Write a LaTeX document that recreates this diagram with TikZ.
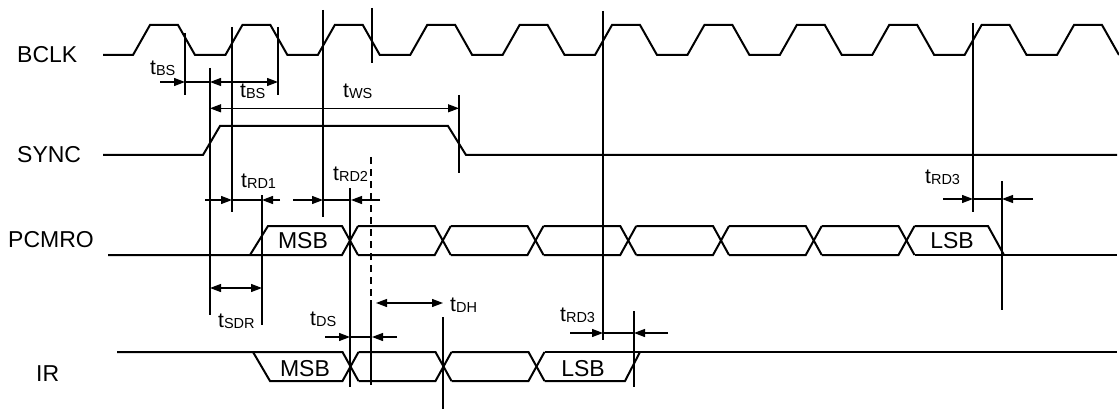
\documentclass[tikz,border=0pt]{standalone}
\usepackage{fontspec}
\setmainfont{Liberation Sans}
\usetikzlibrary{arrows.meta}
\newcommand{\tlabel}[1]{t\raisebox{-1pt}{\fontsize{14.5}{15}\selectfont #1}}

\begin{document}
\begin{tikzpicture}[x=1pt,y=-1pt,
    sigline/.style={line width=2pt,line join=miter},
    guide/.style={line width=1.2pt},
    dimline/.style={line width=1.2pt,-{Triangle[length=11pt,width=8pt]}},
    dimboth/.style={line width=1.2pt,{Triangle[length=11pt,width=8pt]}-{Triangle[length=11pt,width=8pt]}},
    signame/.style={anchor=west,inner sep=0pt,font={\fontsize{23}{27}\selectfont}},
    bitlab/.style={inner sep=0pt,font={\fontsize{23}{27}\selectfont}},
    tlab/.style={anchor=base west,inner sep=0pt,font={\fontsize{21}{24}\selectfont}}]
    \useasboundingbox (0,0) rectangle (1119,409);

    % signal names
    \node[signame] (bclk) at (17,55) {BCLK};
    \node[signame] (sync) at (17,155) {SYNC};
    \node[signame] (pcmro) at (8,240) {PCMRO};
    \node[signame] (ir) at (36,374) {IR};

    % BCLK
    \draw[sigline] (103,55) foreach \k in {0,...,10} {
        -- ({133+92.4*\k},55) -- ({150+92.4*\k},25) -- ({178+92.4*\k},25) -- ({195+92.4*\k},55)
    };

    % SYNC
    \draw[sigline] (103,155) -- (203,155) -- (220,126) -- (448,126) -- (466,155) -- (1117,155);

    % PCMRO
    \draw[sigline] (108,255) -- (342,255) -- (358,226);
    \draw[sigline] (250,255) -- (268,226) -- (342,226) -- (358,255);
    \foreach \k in {0,...,5} {
        \pgfmathsetmacro\xa{350+92.75*\k}
        \pgfmathsetmacro\xb{350+92.75*(\k+1)}
        \draw[sigline] ({\xa+8},226) -- ({\xb-8},226) -- ({\xb+8},255);
        \draw[sigline] ({\xa+8},255) -- ({\xb-8},255) -- ({\xb+8},226);
    }
    \draw[sigline] (914.5,226) -- (988,226) -- (1004,255);
    \draw[sigline] (914.5,255) -- (1117,255);
    \node[bitlab] (msbo) at (303,240.5) {MSB};
    \node[bitlab] (lsbo) at (952,240.5) {LSB};

    % IR
    \draw[sigline] (117,352) -- (342.5,352) -- (358.5,381);
    \draw[sigline] (253,352) -- (270,381) -- (342.5,381) -- (358.5,352);
    \foreach \k in {0,1} {
        \pgfmathsetmacro\xa{350.5+93*\k}
        \pgfmathsetmacro\xb{350.5+93*(\k+1)}
        \draw[sigline] ({\xa+8},352) -- ({\xb-8},352) -- ({\xb+8},381);
        \draw[sigline] ({\xa+8},381) -- ({\xb-8},381) -- ({\xb+8},352);
    }
    \draw[sigline] (544.5,352) -- (1117,352);
    \draw[sigline] (544.5,381) -- (625,381) -- (640,352);
    \node[bitlab] (msbi) at (305,369) {MSB};
    \node[bitlab] (lsbi) at (583,369) {LSB};

    % guide lines
    \foreach \x/\ya/\yb in {185/33/95, 232/27/212, 278/27/95, 323/10/217, 372/8/63,
        603/11/340, 973/23/212, 210/68/315, 459/95/173, 262/195/325, 350/188/387,
        443/317/409, 634/311/387, 1002/181/310, 371/300/385}
        \draw[guide] (\x,\ya) -- (\x,\yb);
    \draw[guide,dash pattern=on 7pt off 5pt] (371,157) -- (371,300);

    % timing arrows
    \draw[dimline] (160,82) -- (185,82);
    \draw[guide] (185,82) -- (210,82);
    \draw[dimboth] (210,82) -- (278,82);
    \draw[dimboth] (210,108.3) -- (459,108.3);
    \draw[dimline] (205,200) -- (232,200);
    \draw[guide] (232,200) -- (262,200);
    \draw[dimline] (280,200) -- (262,200);
    \draw[dimline] (293,200) -- (323,200);
    \draw[guide] (323,200) -- (351,200);
    \draw[dimline] (380,200) -- (351,200);
    \draw[dimline] (943,199) -- (973,199);
    \draw[guide] (973,199) -- (1002,199);
    \draw[dimline] (1033,199) -- (1002,199);
    \draw[dimboth] (210,288) -- (262,288);
    \draw[dimline] (325,337) -- (350,337);
    \draw[guide] (350,337) -- (371,337);
    \draw[dimline] (397,337) -- (372,337);
    \draw[dimboth] (376,303) -- (443,303);
    \draw[dimline] (570,333) -- (603,333);
    \draw[guide] (603,333) -- (634,333);
    \draw[dimline] (668,333) -- (634,333);

    % timing labels
    \node[tlab] (tbsa) at (150,75) {\tlabel{BS}};
    \node[tlab] (tbsb) at (240,98) {\tlabel{BS}};
    \node[tlab] (tws) at (343,98) {\tlabel{WS}};
    \node[tlab] (trda) at (241,187) {\tlabel{RD1}};
    \node[tlab] (trdb) at (333,180) {\tlabel{RD2}};
    \node[tlab] (trdc) at (925,183) {\tlabel{RD3}};
    \node[tlab] (tsdr) at (218,327) {\tlabel{SDR}};
    \node[tlab] (tds) at (310,325) {\tlabel{DS}};
    \node[tlab] (tdh) at (450,311.7) {\tlabel{DH}};
    \node[tlab] (trdd) at (560,321.7) {\tlabel{RD3}};
\end{tikzpicture}
\end{document}
